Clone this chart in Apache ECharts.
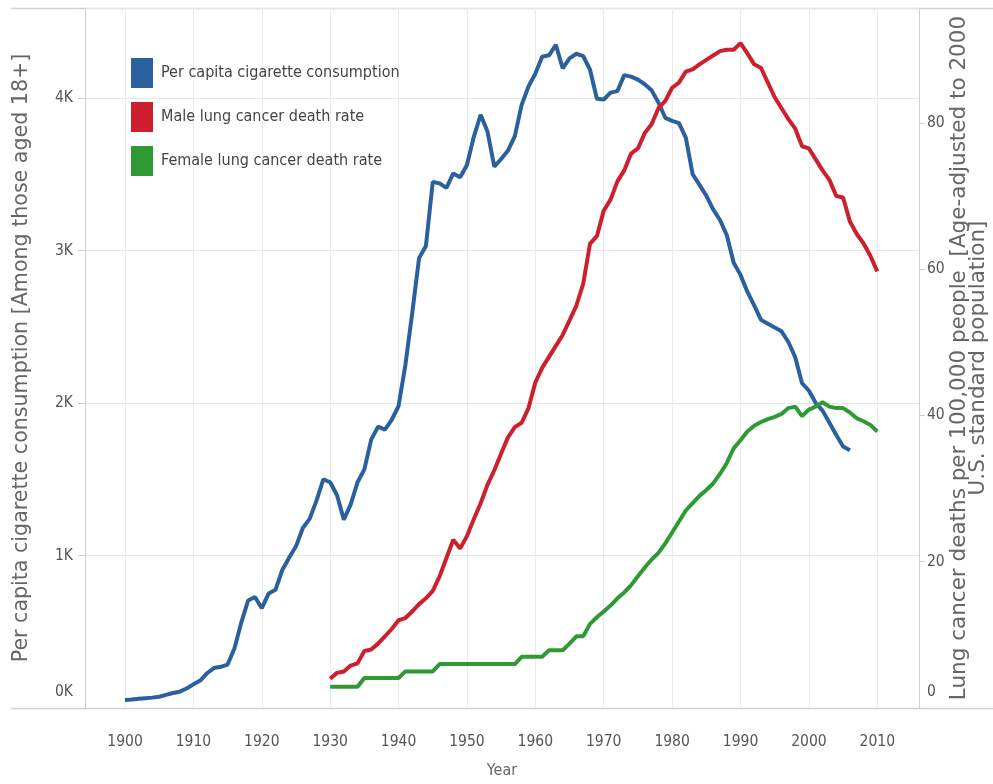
<!DOCTYPE html>
<html><head><meta charset="utf-8">
<script src="https://cdn.jsdelivr.net/npm/echarts@6/dist/echarts.min.js"></script>
<style>html,body{margin:0;padding:0;background:#fff}#c{width:993px;height:784px}</style>
</head><body><div id="c"></div>
<script>
// ---------------- DATA ----------------
const years = [
 1900,1901,1902,1903,1904,1905,1906,1907,1908,1909,
 1910,1911,1912,1913,1914,1915,1916,1917,1918,1919,
 1920,1921,1922,1923,1924,1925,1926,1927,1928,1929,
 1930,1931,1932,1933,1934,1935,1936,1937,1938,1939,
 1940,1941,1942,1943,1944,1945,1946,1947,1948,1949,
 1950,1951,1952,1953,1954,1955,1956,1957,1958,1959,
 1960,1961,1962,1963,1964,1965,1966,1967,1968,1969,
 1970,1971,1972,1973,1974,1975,1976,1977,1978,1979,
 1980,1981,1982,1983,1984,1985,1986,1987,1988,1989,
 1990,1991,1992,1993,1994,1995,1996,1997,1998,1999,
 2000,2001,2002,2003,2004,2005,2006,2007,2008,2009,2010
];
const cigarettes = [
 52,55,60,64,68,74,86,98,107,128,
 155,180,228,262,270,285,390,560,705,728,
 655,750,775,905,985,1060,1180,1240,1360,1500,
 1480,1395,1235,1335,1480,1565,1760,1845,1825,1890,
 1980,2250,2590,2950,3030,3450,3440,3410,3505,3480,
 3560,3745,3890,3780,3550,3600,3655,3750,3955,4075,
 4160,4270,4280,4348,4195,4260,4290,4275,4185,3995,
 3990,4035,4045,4150,4140,4120,4090,4050,3970,3870,
 3850,3835,3740,3500,3430,3360,3270,3200,3100,2920,
 2840,2730,2640,2545,2520,2495,2470,2400,2300,2130,
 2080,2000,1950,1870,1790,1715,1690,null,null,null,null
];
const maleRate = [
 null,null,null,null,null,null,null,null,null,null,
 null,null,null,null,null,null,null,null,null,null,
 null,null,null,null,null,null,null,null,null,null,
 4.0,4.8,5.0,5.8,6.1,7.8,8.0,8.8,9.8,10.8,
 12.0,12.3,13.2,14.2,15.0,16.0,18.0,20.5,23.0,21.8,
 23.5,25.8,28.0,30.5,32.5,34.8,37.0,38.4,39.0,41.0,
 44.5,46.5,48.0,49.5,51.0,53.0,55.0,58.0,63.5,64.5,
 68.0,69.5,72.0,73.5,75.8,76.5,78.6,79.8,82.0,83.0,
 84.8,85.5,87.0,87.3,88.0,88.6,89.2,89.8,90.0,90.0,
 90.9,89.5,88.0,87.5,85.5,83.5,82.0,80.5,79.2,76.8,
 76.5,75.0,73.5,72.2,70.0,69.8,66.5,64.8,63.5,61.8,59.7
];
const femaleRate = [
 null,null,null,null,null,null,null,null,null,null,
 null,null,null,null,null,null,null,null,null,null,
 null,null,null,null,null,null,null,null,null,null,
 2.9,2.9,2.9,2.9,2.9,4.1,4.1,4.1,4.1,4.1,
 4.1,5.0,5.0,5.0,5.0,5.0,6.0,6.0,6.0,6.0,
 6.0,6.0,6.0,6.0,6.0,6.0,6.0,6.0,7.0,7.0,
 7.0,7.0,7.9,7.9,7.9,8.8,9.8,9.8,11.5,12.4,
 13.2,14.0,15.0,15.8,16.8,18.0,19.2,20.3,21.2,22.5,
 24.0,25.5,27.0,28.0,29.0,29.8,30.7,32.0,33.5,35.5,
 36.6,37.8,38.6,39.1,39.5,39.8,40.2,41.0,41.2,39.9,
 40.8,41.2,41.8,41.2,41.0,41.0,40.4,39.6,39.2,38.7,37.8
];
const seriesNames = ['Per capita cigarette consumption','Male lung cancer death rate','Female lung cancer death rate'];
const leftTickLabels = {0:'0K',1000:'1K',2000:'2K',3000:'3K',4000:'4K'};
const rightTickLabels = {0:'0',20:'20',40:'40',60:'60',80:'80'};
const xTickYears = [1900,1910,1920,1930,1940,1950,1960,1970,1980,1990,2000,2010];
const leftTitle = 'Per capita cigarette consumption [Among those aged 18+]';
const rightTitle = 'Lung cancer deaths per 100,000 people  [Age-adjusted to 2000\nU.S. standard population]';
const xTitle = 'Year';

// ---------------- CHART ----------------
const NARROW = "'DejaVu Sans Condensed','Liberation Sans Narrow','Arial Narrow',sans-serif";
const WIDE = "'DejaVu Sans',sans-serif";
const colors = ['#2b609f', '#cd1f2d', '#2f9a33'];
const pairs = arr => years.map((y, i) => [y, arr[i]]).filter(d => d[1] !== null);

const chart = echarts.init(document.getElementById('c'), null, {renderer: 'canvas'});

chart.setOption({
  animation: false,
  backgroundColor: '#fff',
  color: colors,
  grid: {left: 85, right: 74, top: 8, bottom: 76, outerBoundsMode: 'none', containLabel: false},
  legend: {
    orient: 'vertical', left: 131, top: 58, padding: 0,
    itemWidth: 22, itemHeight: 30, itemGap: 14,
    icon: 'rect',
    textStyle: {fontFamily: NARROW, fontSize: 16, color: '#444', padding: [0, 0, 0, 3]},
    data: seriesNames
  },
  xAxis: {
    type: 'value', min: 1894.15, max: 2016.1,
    minInterval: 10, maxInterval: 10,
    name: xTitle, nameLocation: 'middle', nameGap: 55, nameMoveOverlap: false,
    nameTextStyle: {fontFamily: NARROW, fontSize: 16, color: '#666'},
    axisLine: {show: true, lineStyle: {color: '#cfcfcf', width: 1}},
    axisTick: {show: false},
    axisLabel: {
      margin: 26, fontFamily: NARROW, fontSize: 15.5, color: '#555',
      formatter: v => xTickYears.indexOf(Math.round(v)) >= 0 && Math.abs(v - Math.round(v)) < 1e-6 ? String(Math.round(v)) : ''
    },
    splitLine: {show: true, lineStyle: {color: '#ececec', width: 1}}
  },
  yAxis: [{
    type: 'value', min: 0, max: 4590, interval: 1000, position: 'left',
    name: leftTitle, nameLocation: 'middle', nameGap: 53, nameRotate: 90, nameMoveOverlap: false,
    nameTextStyle: {fontFamily: WIDE, fontSize: 20.6, color: '#666'},
    axisLine: {show: true, lineStyle: {color: '#cfcfcf'}},
    axisTick: {show: true, length: 7, lineStyle: {color: '#cfcfcf'}},
    axisLabel: {
      margin: 12, fontFamily: NARROW, fontSize: 15.5, color: '#555',
      formatter: v => v === 0 ? '{z|' + leftTickLabels[0] + '}' : (leftTickLabels[v] || ''),
      rich: {z: {fontFamily: NARROW, fontSize: 15.5, color: '#555', padding: [0, 0, 32, 0]}}
    },
    splitLine: {show: true, lineStyle: {color: '#e6e6e6'}}
  }, {
    type: 'value', min: 0, max: 95.7, interval: 20, position: 'right',
    name: rightTitle, nameLocation: 'middle', nameGap: 31, nameRotate: 90, nameMoveOverlap: false,
    nameTextStyle: {fontFamily: WIDE, fontSize: 21.5, color: '#666', lineHeight: 19, align: 'center'},
    axisLine: {show: true, lineStyle: {color: '#cfcfcf'}},
    axisTick: {show: true, length: 6, lineStyle: {color: '#cfcfcf'}},
    axisLabel: {
      margin: 8, fontFamily: NARROW, fontSize: 15.5, color: '#555',
      formatter: v => v === 0 ? '{z|' + rightTickLabels[0] + '}' : (rightTickLabels[v] || ''),
      rich: {z: {fontFamily: NARROW, fontSize: 15.5, color: '#555', padding: [0, 0, 32, 0]}}
    },
    splitLine: {show: false}
  }],
  graphic: [
    {type: 'line', z: 0, shape: {x1: 11, y1: 8.5, x2: 993, y2: 8.5}, style: {stroke: '#d4d4d4', lineWidth: 1.5}},
    {type: 'line', z: 0, shape: {x1: 11, y1: 708.5, x2: 993, y2: 708.5}, style: {stroke: '#d4d4d4', lineWidth: 1.5}}
  ],
  series: [{
    name: seriesNames[0], type: 'line', yAxisIndex: 0, showSymbol: false, symbol: 'none',
    lineStyle: {width: 4, color: colors[0]}, data: pairs(cigarettes)
  }, {
    name: seriesNames[1], type: 'line', yAxisIndex: 1, showSymbol: false, symbol: 'none',
    lineStyle: {width: 4, color: colors[1]}, data: pairs(maleRate)
  }, {
    name: seriesNames[2], type: 'line', yAxisIndex: 1, showSymbol: false, symbol: 'none',
    lineStyle: {width: 4, color: colors[2]}, data: pairs(femaleRate)
  }]
});
</script></body></html>
